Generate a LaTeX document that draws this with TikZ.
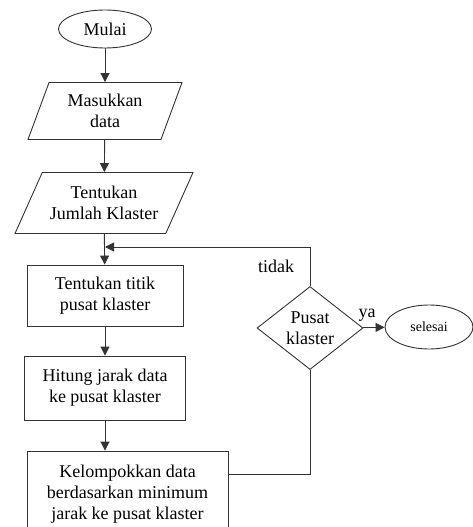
\documentclass[tikz,border=0pt]{standalone}
\usepackage{fontspec}
\setmainfont{Liberation Serif}
\usetikzlibrary{shapes.geometric, arrows.meta, positioning, calc}

\begin{document}
\begin{tikzpicture}[
    x=1pt, y=-1pt,
    font=\fontsize{18}{21}\selectfont,
    line width=0.9pt, draw=black!80,
    term/.style={draw, ellipse, inner sep=0pt, align=center},
    io/.style={draw, trapezium, trapezium stretches body, inner sep=0pt, align=center},
    proc/.style={draw, rectangle, inner sep=0pt, align=center},
    cond/.style={draw, diamond, inner sep=0pt, align=center},
    arr/.style={-{Triangle[width=9pt,length=9pt]}},
]
\useasboundingbox (0,0) rectangle (473,527);

% Start and inputs
\node[term, minimum width=93pt, minimum height=38pt] (mulai) at (105,29) {Mulai};
\node[io, trapezium left angle=58, trapezium right angle=122, minimum width=154pt, minimum height=57pt] (masuk) at (105,111) {Masukkan\\data};
\node[io, trapezium left angle=51, trapezium right angle=129, minimum width=178pt, minimum height=61pt] (jumlah) at (104,203) {Tentukan\\Jumlah Klaster};

% Process steps
\node[proc, minimum width=156pt, minimum height=61pt] (titik) at (105,295.5) {Tentukan titik\\pusat klaster};
\node[proc, minimum width=161pt, minimum height=64pt] (hitung) at (105,388) {Hitung jarak data\\ke pusat klaster};
\node[proc, minimum width=201pt, minimum height=86pt] (kelompok) at (127.5,494) {Kelompokkan data\\berdasarkan minimum\\jarak ke pusat klaster};

% Decision and end
\node[cond, aspect=1.28, minimum width=106pt, minimum height=83pt] (cek) at (310,328) {Pusat\\klaster};
\node[term, minimum width=88pt, minimum height=44pt, font=\fontsize{14}{16}\selectfont] (selesai) at (429,327) {selesai};
\coordinate (join) at (105,247);

% Main flow
\foreach \a/\b in {mulai/masuk, masuk/jumlah, jumlah/titik, titik/hitung} \draw[arr] (\a) -- (\b);
\draw[arr] (hitung.south) -- (hitung.south |- kelompok.north);
% Loop back
\draw ([yshift=20pt]kelompok.east) -| (cek.south);
\draw[arr] (cek.north) |- node[pos=0.25, left=12pt] {tidak} (join);
\draw[arr] (cek) -- node[pos=0.2, above=2pt] {ya} (selesai);
\end{tikzpicture}
\end{document}
